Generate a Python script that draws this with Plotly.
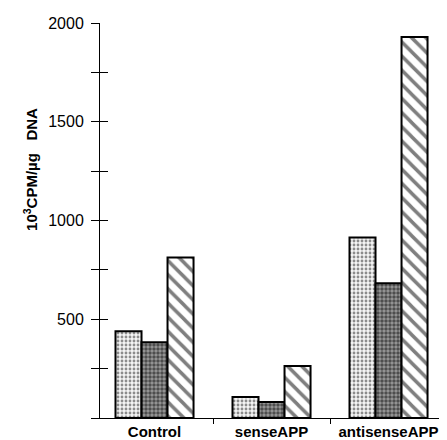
import plotly.graph_objects as go

categories = ["Control", "senseAPP", "antisenseAPP"]
series1 = [439, 106, 914]
series2 = [384, 81, 682]
series3 = [813, 263, 1929]
ytick_vals = [0, 250, 500, 750, 1000, 1250, 1500, 1750, 2000]
ytick_text = ["", "", "500", "", "1000", "", "1500", "", "2000"]

fig = go.Figure()
line = dict(color="black", width=2)
fig.add_trace(go.Bar(x=categories, y=series1, marker=dict(color="#c4c4c4", line=line,
    pattern=dict(shape=".", fgcolor="#222222", bgcolor="#f4f4f4", size=4, solidity=0.4))))
fig.add_trace(go.Bar(x=categories, y=series2, marker=dict(color="#4a4a4a", line=line,
    pattern=dict(shape=".", fgcolor="black", bgcolor="#9a9a9a", size=4, solidity=0.6))))
fig.add_trace(go.Bar(x=categories, y=series3, marker=dict(color="white", line=line,
    pattern=dict(shape="\\", fgcolor="black", bgcolor="white", size=10, solidity=0.35))))
# dummy trace to draw the inner half of the crossing y ticks
fig.add_trace(go.Scatter(x=[None], y=[None], yaxis="y2", showlegend=False))

fig.update_layout(
    width=447, height=440,
    margin=dict(l=92, r=4, t=15, b=30),
    plot_bgcolor="white", paper_bgcolor="white",
    showlegend=False,
    barmode="group", bargap=0.333, bargroupgap=0,
    font=dict(family="Liberation Sans, Arial", color="black"),
    xaxis=dict(range=[-0.466, 2.534], showline=True, linecolor="black", linewidth=1,
               ticks="outside", tickson="boundaries", ticklen=5, tickcolor="black",
               tickfont=dict(size=15, weight="bold"),
               ticklabelshift=0, showgrid=False, zeroline=False),
    yaxis=dict(range=[0, 2000], showline=True, linecolor="black", linewidth=1,
               tickvals=ytick_vals, ticktext=ytick_text, ticks="outside", ticklen=8,
               tickcolor="black", tickfont=dict(size=16), ticklabelstandoff=4,
               showgrid=False, zeroline=False),
    yaxis2=dict(range=[0, 2000], overlaying="y", side="left", anchor="x",
                tickvals=ytick_vals, ticks="inside", ticklen=8, tickcolor="black",
                showticklabels=False, showgrid=False, zeroline=False, showline=False),
    annotations=[dict(text="<b>10<sup>3</sup>CPM/µg   DNA</b>", xref="paper", yref="paper",
                      x=-0.2, y=0.63, xanchor="center", yanchor="middle", textangle=-90,
                      showarrow=False, font=dict(size=15))],
)
fig.write_html("out.html")
